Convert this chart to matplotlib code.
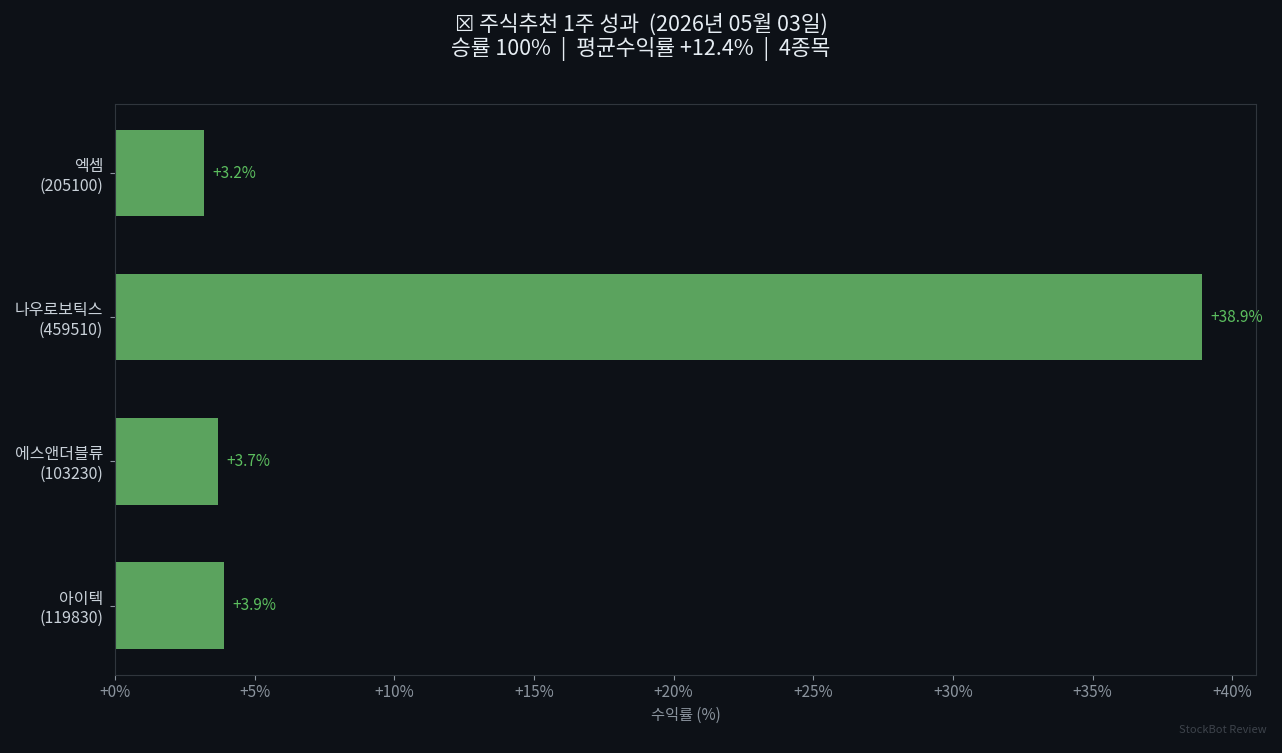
import matplotlib
matplotlib.use('Agg')
import matplotlib.pyplot as plt

plt.rcParams['font.family'] = ['Noto Sans CJK KR', 'DejaVu Sans']

names = ['엑셈\n(205100)', '나우로보틱스\n(459510)', '에스앤더블류\n(103230)', '아이텍\n(119830)']
returns = [3.2, 38.9, 3.7, 3.9]
xticks = [0, 5, 10, 15, 20, 25, 30, 35, 40]

bg = '#0d1117'
fig, ax = plt.subplots(figsize=(12.82, 7.53), dpi=100)
fig.patch.set_facecolor(bg)
ax.set_facecolor(bg)

ypos = list(range(len(names)))
ax.barh(ypos, returns, height=0.6, color='#5ba35e')
for y, v in zip(ypos, returns):
    ax.text(v + 0.3, y, f'+{v:.1f}%', va='center', ha='left', color='#5cbf5f', fontsize=11)

ax.set_yticks(ypos)
ax.set_yticklabels(names)
ax.invert_yaxis()
ax.set_xlim(0, max(returns) * 1.05)
ax.set_xticks(xticks)
ax.set_xticklabels([f'+{t}%' for t in xticks])
ax.set_xlabel('수익률 (%)', color='#8b949e', fontsize=11)

ax.tick_params(axis='x', colors='#8b949e', labelsize=11)
ax.tick_params(axis='y', colors='#8b949e', labelsize=11.5, labelcolor='#c9d1d9', pad=5)
for s in ax.spines.values():
    s.set_color('#30363d')

fig.suptitle('☒ 주식추천 1주 성과  (2026년 05월 03일)\n승률 100%  |  평균수익률 +12.4%  |  4종목',
             color='#e6edf3', fontsize=15.5, y=0.982, linespacing=1.05)
fig.text(0.988, 0.024, 'StockBot Review', ha='right', va='bottom', color='#3d434b', fontsize=8)

fig.subplots_adjust(left=0.0897, right=0.9797, top=0.862, bottom=0.104)
fig.savefig('out.png', dpi=100, facecolor=bg)
